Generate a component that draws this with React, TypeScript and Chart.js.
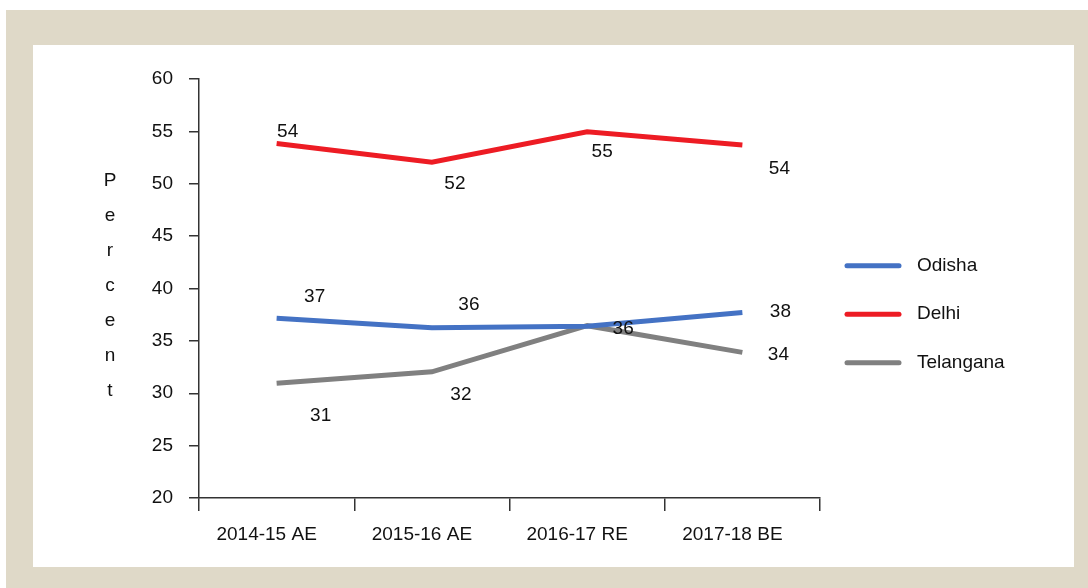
import React, { useEffect, useRef } from "react";
import { Chart, registerables } from "chart.js";

Chart.register(...registerables);

const categories = ["2014-15 AE", "2015-16 AE", "2016-17 RE", "2017-18 BE"];
const odisha = [37.15, 36.25, 36.4, 37.7];
const delhi = [53.85, 52.05, 54.97, 53.7];
const telangana = [30.95, 32.05, 36.45, 33.9];
const seriesNames = ["Odisha", "Delhi", "Telangana"];
const seriesColors = ["#4472c4", "#ed1c24", "#808080"];
const yTitle = "Percent";

// label offsets (dx, dy) relative to each point; null = label hidden
const labelOffsets: (number[] | null)[][] = [
  [[38, -22], [37, -23], null, [38, -1]],
  [[11, -12], [23, 21], [15, 20], [37, 24]],
  [[44, 32], [29, 23], [36, 3], [36, 2]],
];

const FONT = "'Liberation Sans', Arial, sans-serif";
const TEXT = "#111111";
const AXIS = "#333333";

const overlay = {
  id: "overlay",
  afterDatasetsDraw(chart: any) {
    const ctx = chart.ctx;
    ctx.save();
    ctx.font = `19px ${FONT}`;
    ctx.fillStyle = TEXT;
    ctx.textAlign = "center";
    ctx.textBaseline = "middle";
    chart.data.datasets.forEach((ds: any, di: number) => {
      const meta = chart.getDatasetMeta(di);
      meta.data.forEach((pt: any, i: number) => {
        const off = labelOffsets[di][i];
        if (!off) return;
        ctx.fillText(String(Math.round(ds.data[i])), pt.x + off[0], pt.y + off[1]);
      });
    });
    ctx.restore();
  },
  afterDraw(chart: any) {
    const ctx = chart.ctx;
    const area = chart.chartArea;
    ctx.save();
    // vertical y-axis title
    ctx.font = `19px ${FONT}`;
    ctx.fillStyle = TEXT;
    ctx.textAlign = "center";
    ctx.textBaseline = "middle";
    const letters = yTitle.split("");
    const step = 35;
    const cy = (area.top + area.bottom) / 2 - 2.5;
    const startY = cy - ((letters.length - 1) * step) / 2;
    letters.forEach((ch, i) => {
      ctx.fillText(ch, area.left - 89, startY + i * step);
    });
    // legend
    chart.data.datasets.forEach((ds: any, i: number) => {
      const y = area.top + 186.7 + i * 48.5;
      const x0 = area.right + 27;
      ctx.strokeStyle = ds.borderColor;
      ctx.lineWidth = 5;
      ctx.lineCap = "round";
      ctx.beginPath();
      ctx.moveTo(x0, y);
      ctx.lineTo(x0 + 52, y);
      ctx.stroke();
      ctx.fillStyle = TEXT;
      ctx.textAlign = "left";
      ctx.fillText(ds.label, x0 + 70, y);
    });
    ctx.restore();
  },
};

export default function App() {
  const ref = useRef<HTMLCanvasElement>(null);
  useEffect(() => {
    if (!ref.current) return;
    const values = [odisha, delhi, telangana];
    const chart = new Chart(ref.current, {
      type: "line",
      data: {
        labels: categories,
        datasets: values.map((v, i) => ({
          label: seriesNames[i],
          data: v,
          borderColor: seriesColors[i],
          backgroundColor: seriesColors[i],
          borderWidth: 5,
          pointRadius: 0,
          tension: 0,
          fill: false,
          borderCapStyle: "butt" as const,
          borderJoinStyle: "miter" as const,
        })),
      },
      options: {
        responsive: false,
        animation: false,
        devicePixelRatio: 1,
        layout: { padding: { left: 0, top: 34, right: 254, bottom: 0 } },
        plugins: {
          legend: { display: false },
          tooltip: { enabled: false },
          title: { display: false },
        },
        scales: {
          x: {
            type: "category",
            offset: true,
            grid: {
              offset: true,
              drawOnChartArea: false,
              drawTicks: true,
              tickLength: 13,
              color: AXIS,
              lineWidth: 1.5,
            },
            border: { display: true, color: AXIS, width: 1.5 },
            ticks: {
              color: TEXT,
              font: { family: FONT, size: 19 },
              padding: 12,
              maxRotation: 0,
              labelOffset: -10,
            },
            afterFit(scale: any) {
              scale.height = 69;
            },
          },
          y: {
            min: 20,
            max: 60,
            grid: {
              drawOnChartArea: false,
              drawTicks: true,
              tickLength: 10,
              color: AXIS,
              lineWidth: 1.5,
            },
            border: { display: true, color: AXIS, width: 1.5 },
            ticks: {
              stepSize: 5,
              color: TEXT,
              font: { family: FONT, size: 19 },
              padding: 16,
            },
            afterFit(scale: any) {
              scale.width = 166;
            },
          },
        },
      },
      plugins: [overlay],
    });
    return () => chart.destroy();
  }, []);

  return (
    <div
      style={{
        position: "absolute",
        left: 6,
        top: 10,
        width: 1082,
        height: 578,
        background: "#dfd9c8",
      }}
    >
      <div
        style={{
          position: "absolute",
          left: 27,
          top: 35,
          width: 1041,
          height: 522,
          background: "#ffffff",
        }}
      >
        <canvas ref={ref} width={1041} height={522} style={{ display: "block" }} />
      </div>
    </div>
  );
}
